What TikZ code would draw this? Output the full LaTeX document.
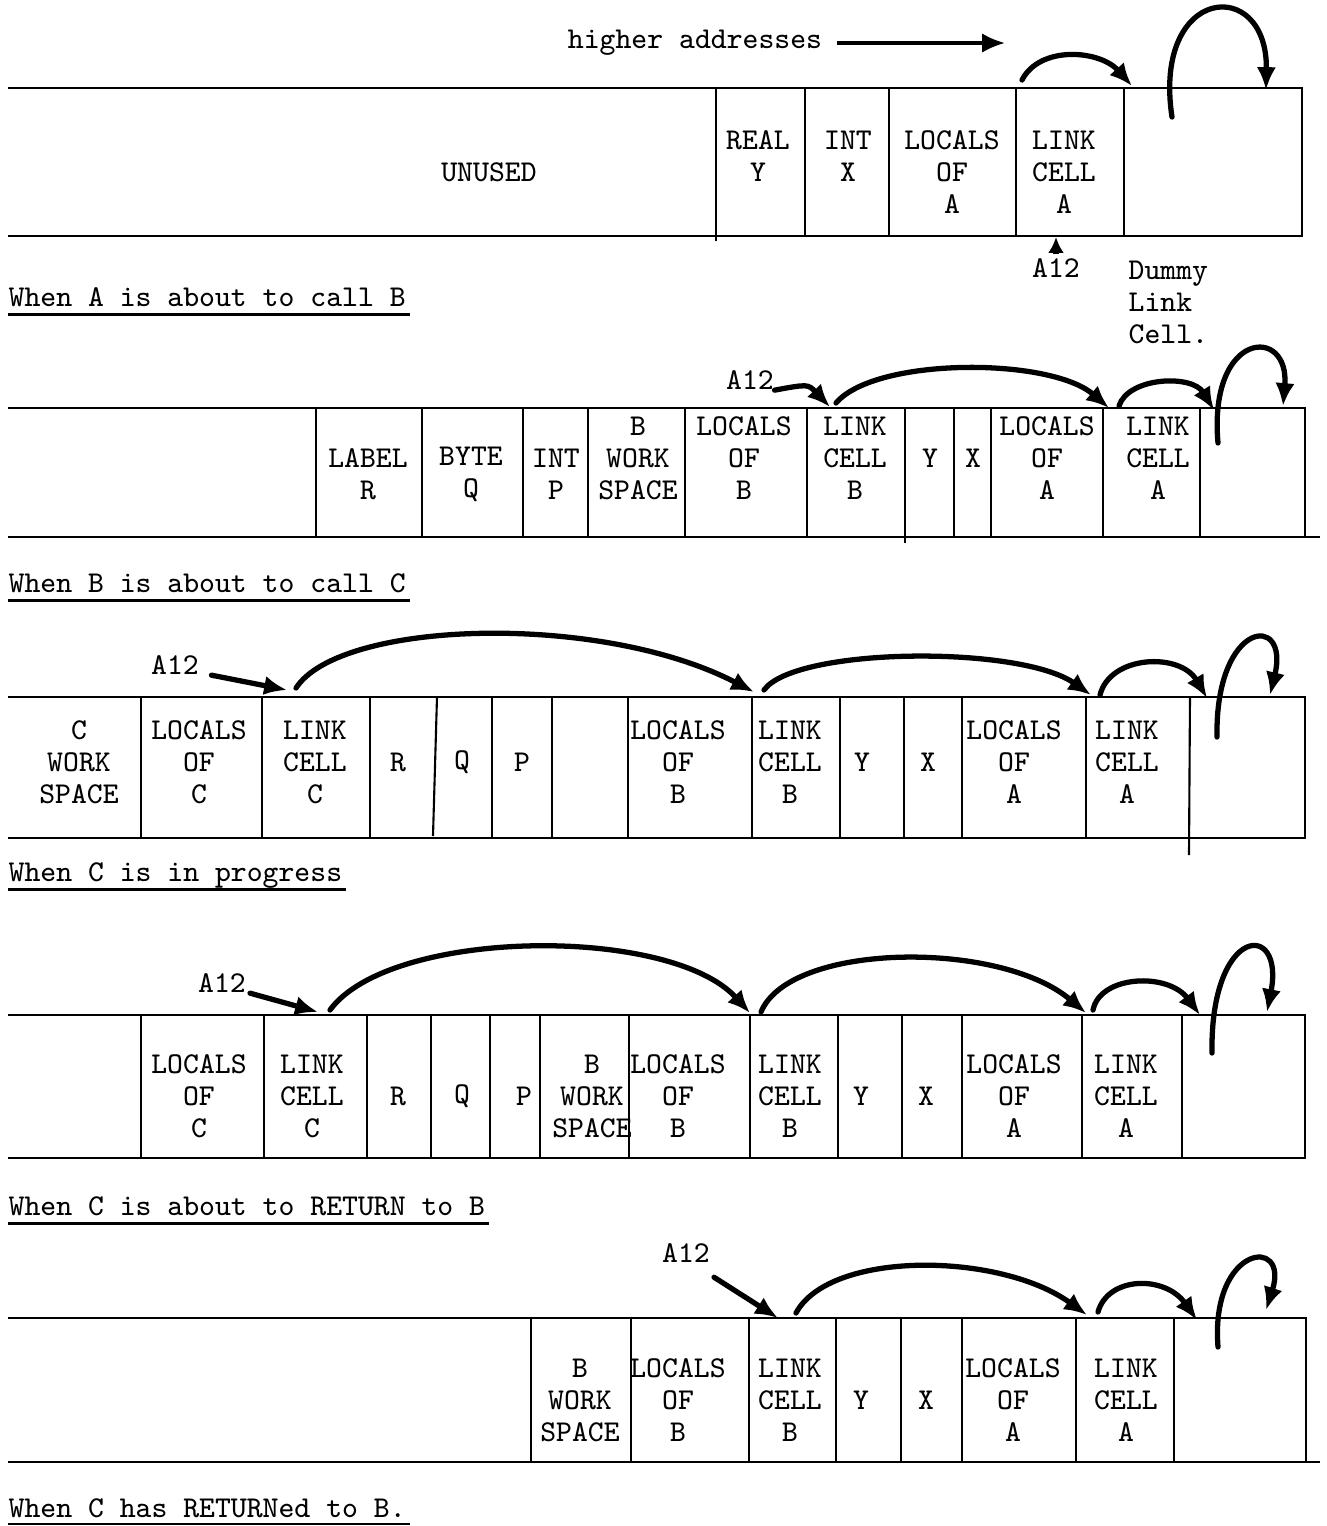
\documentclass[tikz,border=0pt]{standalone}
\usepackage{fontspec}
\usetikzlibrary{arrows.meta}
\begin{document}
\begin{tikzpicture}[x=0.01cm,y=-0.01cm,>={Latex[length=6.5pt,width=5.5pt]},
		font=\ttfamily\fontsize{8.6}{9.1}\selectfont,
		box/.style={line width=0.6pt},
		cell/.style={align=center,inner sep=0pt},
		link/.style={line width=1.5pt,->,line cap=round},
		caption/.style={anchor=base west,inner sep=0pt},
		uline/.style={line width=0.6pt,shorten >=-1pt}]
	\useasboundingbox (0,0) rectangle (1327,1526);
	% when A is about to call B
	\node[cell] (higher) at (695,43) {higher addresses};
	\coordinate (hiend) at (1005,45);
	\draw[->,line width=0.9pt] ([xshift=4pt]higher.east) -- (higher.east -| hiend);
	\draw[box] (8,88) -- (1302,88) -- (1302,236) -- (8,236);
	\foreach \x in {805,889,1016,1124} \draw[box] (\x,88) -- (\x,236);
	\draw[box] (716,88) -- (716,241);
	\node[cell] (unused) at (489,172) {UNUSED};
	\node[cell] (realY) at (758,156) {REAL\\Y};
	\node[cell] (intX) at (848,156) {INT\\X};
	\node[cell] (locA1) at (952,172) {LOCALS\\OF\\A};
	\node[cell] (lcA1) at (1064,172) {LINK\\CELL\\A};
	\node[cell] (a12a) at (1056,268) {A12};
	\node[cell,align=left,anchor=north west] (dummy) at (1128,260) {Dummy\\Link\\Cell.};
	\coordinate (a12up) at (1056,237);
	\draw[-{Latex[length=4.5pt,width=4.5pt]},line width=1.5pt] ([yshift=1pt]a12a.north) -- (a12up);
	\coordinate (p1s) at (1022,80);
	\coordinate (p1t) at (1132,86);
	\draw[link] (p1s) .. controls (1040,45) and (1100,50) .. (p1t);
	\coordinate (d1s) at (1172,117);
	\coordinate (d1t) at (1266,90);
	\draw[link] (d1s) .. controls (1152,-15) and (1268,-25) .. (d1t);
	\node[caption] (capA) at (8,306) {When A is about to call B};
	\draw[uline] ([yshift=-2.4pt]capA.base west) -- ([yshift=-2.4pt]capA.base east);

	% when B is about to call C
	\draw[box] (8,408) -- (1305,408) -- (1305,537);
	\draw[box] (8,537) -- (1320,537);
	\foreach \x in {316,422,523,588,685,807,954,991,1103,1200} \draw[box] (\x,408) -- (\x,537);
	\draw[box] (905,408) -- (905,543);
	\node[cell] (labR) at (368,474) {LABEL\\R};
	\node[cell] (byteQ) at (471,474) {BYTE\\Q};
	\node[cell] (intP) at (556,474) {INT\\P};
	\node[cell] (wsB2) at (638,458) {B\\WORK\\SPACE};
	\node[cell] (locB2) at (744,458) {LOCALS\\OF\\B};
	\node[cell] (lcB2) at (855,458) {LINK\\CELL\\B};
	\node[cell] (y2) at (930,458) {Y};
	\node[cell] (x2) at (973,458) {X};
	\node[cell] (locA2) at (1047,458) {LOCALS\\OF\\A};
	\node[cell] (lcA2) at (1158,458) {LINK\\CELL\\A};
	\node[cell] (a12b) at (750,380) {A12};
	\coordinate (p2a) at (830,407);
	\draw[link] (a12b.south east) .. controls (808,384) .. (p2a);
	\coordinate (p2b) at (836,403);
	\coordinate (p2c) at (1109,408);
	\draw[link] (p2b) .. controls (875,357) and (1050,357) .. (p2c);
	\coordinate (p2d) at (1119,406);
	\coordinate (p2e) at (1214,410);
	\draw[link] (p2d) .. controls (1128,377) and (1192,374) .. (p2e);
	\coordinate (d2s) at (1218,443);
	\coordinate (d2t) at (1283,406);
	\draw[link] (d2s) .. controls (1208,330) and (1290,325) .. (d2t);
	\node[caption] (capB) at (8,592) {When B is about to call C};
	\draw[uline] ([yshift=-2.4pt]capB.base west) -- ([yshift=-2.4pt]capB.base east);

	% when C is in progress
	\draw[box] (8,697) -- (1305,697) -- (1305,838) -- (8,838);
	\foreach \x in {141,262,370,492,552,628,752,840,904,962,1086} \draw[box] (\x,697) -- (\x,838);
	\draw[box] (437,697) -- (433,836);
	\draw[box] (1190,697) -- (1189,855);
	\node[cell] (wsC3) at (79,762) {C\\WORK\\SPACE};
	\node[cell] (locC3) at (199,762) {LOCALS\\OF\\C};
	\node[cell] (lcC3) at (315,762) {LINK\\CELL\\C};
	\node[cell] (r3) at (398,762) {R};
	\node[cell] (q3) at (462,762) {Q};
	\node[cell] (p3) at (522,762) {P};
	\node[cell] (locB3) at (678,762) {LOCALS\\OF\\B};
	\node[cell] (lcB3) at (790,762) {LINK\\CELL\\B};
	\node[cell] (y3) at (862,762) {Y};
	\node[cell] (x3) at (928,762) {X};
	\node[cell] (locA3) at (1014,762) {LOCALS\\OF\\A};
	\node[cell] (lcA3) at (1127,762) {LINK\\CELL\\A};
	\node[cell] (a12c) at (175,665) {A12};
	\coordinate (p3a) at (287,690);
	\draw[link] ([xshift=3.4pt]a12c.south east) -- (p3a);
	\coordinate (p3b) at (296,688);
	\coordinate (p3c) at (754,692);
	\draw[link] (p3b) .. controls (340,620) and (600,612) .. (p3c);
	\coordinate (p3d) at (764,690);
	\coordinate (p3e) at (1091,695);
	\draw[link] (p3d) .. controls (795,647) and (1020,645) .. (p3e);
	\coordinate (p3f) at (1100,695);
	\coordinate (p3g) at (1207,698);
	\draw[link] (p3f) .. controls (1110,655) and (1180,652) .. (p3g);
	\coordinate (d3s) at (1217,737);
	\coordinate (d3t) at (1270,695);
	\draw[link] (d3s) .. controls (1215,620) and (1290,612) .. (d3t);
	\node[caption] (capC) at (8,881) {When C is in progress};
	\draw[uline] ([yshift=-2.4pt]capC.base west) -- ([yshift=-2.4pt]capC.base east);

	% when C is about to RETURN to B
	\draw[box] (8,1015) -- (1305,1015) -- (1305,1158) -- (8,1158);
	\foreach \x in {141,264,367,431,490,540,629,750,838,902,962,1082,1182} \draw[box] (\x,1015) -- (\x,1158);
	\node[cell] (locC4) at (199,1096) {LOCALS\\OF\\C};
	\node[cell] (lcC4) at (312,1096) {LINK\\CELL\\C};
	\node[cell] (r4) at (398,1096) {R};
	\node[cell] (q4) at (462,1096) {Q};
	\node[cell] (p4) at (524,1096) {P};
	\node[cell] (wsB4) at (592,1096) {B\\WORK\\SPACE};
	\node[cell] (locB4) at (678,1096) {LOCALS\\OF\\B};
	\node[cell] (lcB4) at (790,1096) {LINK\\CELL\\B};
	\node[cell] (y4) at (861,1096) {Y};
	\node[cell] (x4) at (926,1096) {X};
	\node[cell] (locA4) at (1014,1096) {LOCALS\\OF\\A};
	\node[cell] (lcA4) at (1126,1096) {LINK\\CELL\\A};
	\node[cell] (a12d) at (222,983) {A12};
	\coordinate (p4a) at (318,1012);
	\draw[link] ([xshift=1pt]a12d.south east) -- (p4a);
	\coordinate (p4b) at (330,1010);
	\coordinate (p4c) at (750,1013);
	\draw[link] (p4b) .. controls (390,928) and (670,925) .. (p4c);
	\coordinate (p4d) at (761,1012);
	\coordinate (p4e) at (1086,1013);
	\draw[link] (p4d) .. controls (790,942) and (1000,940) .. (p4e);
	\coordinate (p4f) at (1093,1010);
	\coordinate (p4g) at (1200,1015);
	\draw[link] (p4f) .. controls (1100,975) and (1168,972) .. (p4g);
	\coordinate (d4s) at (1212,1053);
	\coordinate (d4t) at (1267,1012);
	\draw[link] (d4s) .. controls (1210,925) and (1285,920) .. (d4t);
	\node[caption] (capD) at (8,1215) {When C is about to RETURN to B};
	\draw[uline] ([yshift=-2.4pt]capD.base west) -- ([yshift=-2.4pt]capD.base east);

	% when C has RETURNed to B
	\draw[box] (8,1318) -- (1306,1318) -- (1306,1462);
	\draw[box] (8,1462) -- (1320,1462);
	\foreach \x in {531,631,749,836,901,962,1076,1174} \draw[box] (\x,1318) -- (\x,1462);
	\node[cell] (wsB5) at (580,1400) {B\\WORK\\SPACE};
	\node[cell] (locB5) at (678,1400) {LOCALS\\OF\\B};
	\node[cell] (lcB5) at (790,1400) {LINK\\CELL\\B};
	\node[cell] (y5) at (861,1400) {Y};
	\node[cell] (x5) at (926,1400) {X};
	\node[cell] (locA5) at (1013,1400) {LOCALS\\OF\\A};
	\node[cell] (lcA5) at (1126,1400) {LINK\\CELL\\A};
	\node[cell] (a12e) at (686,1253) {A12};
	\coordinate (p5a) at (778,1318);
	\draw[link] ([xshift=1pt,yshift=-4pt]a12e.south east) -- (p5a);
	\coordinate (p5b) at (796,1313);
	\coordinate (p5c) at (1087,1315);
	\draw[link] (p5b) .. controls (830,1250) and (1000,1252) .. (p5c);
	\coordinate (p5d) at (1098,1312);
	\coordinate (p5e) at (1197,1320);
	\draw[link] (p5d) .. controls (1108,1276) and (1165,1275) .. (p5e);
	\coordinate (d5s) at (1218,1347);
	\coordinate (d5t) at (1266,1310);
	\draw[link] (d5s) .. controls (1210,1245) and (1290,1235) .. (d5t);
	\node[caption] (capE) at (8,1517) {When C has RETURNed to B.};
	\draw[uline] ([yshift=-2pt]capE.base west) -- ([yshift=-2pt]capE.base east);
\end{tikzpicture}
\end{document}
